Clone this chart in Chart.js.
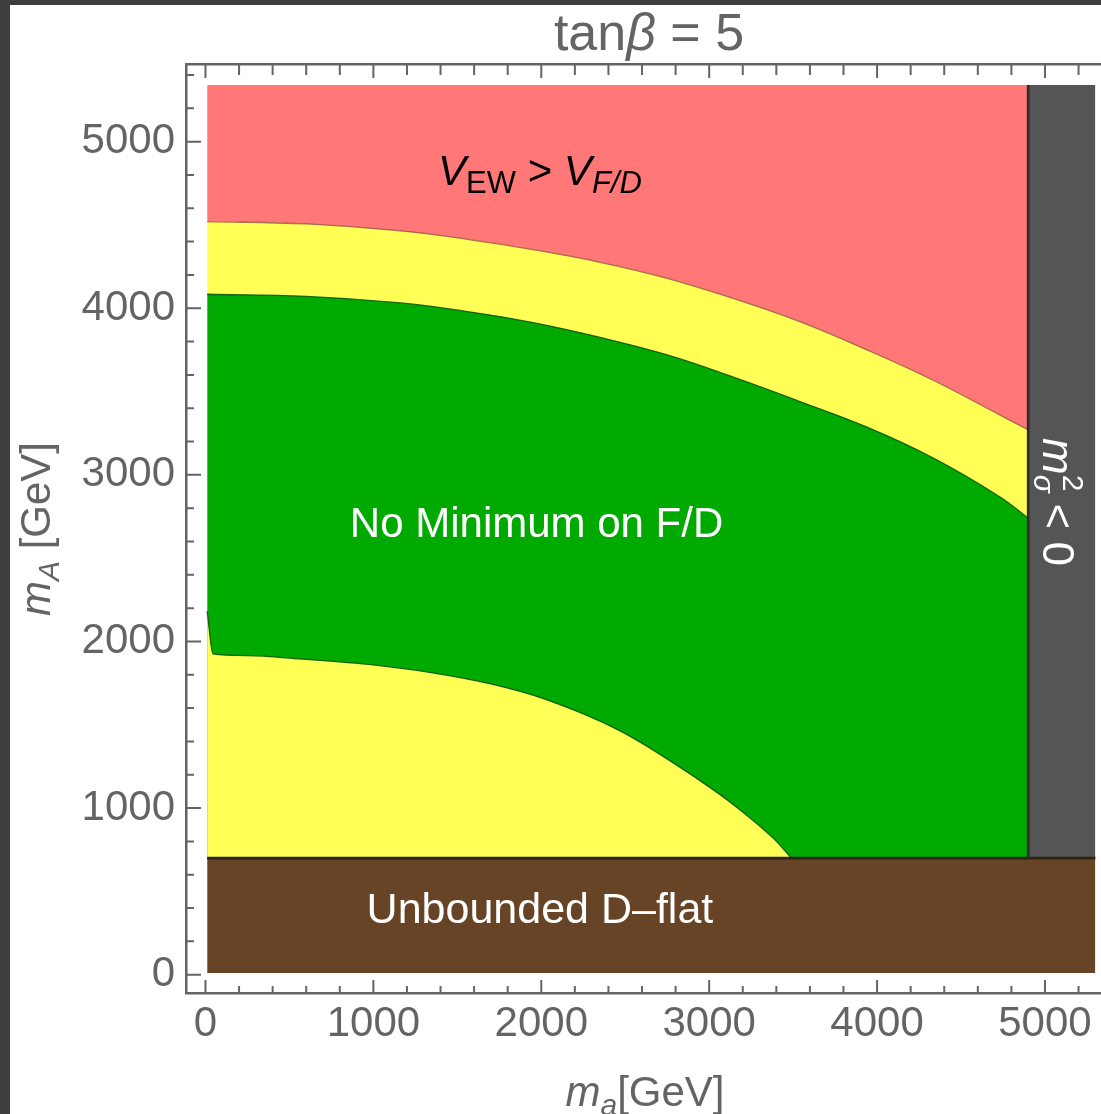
<!DOCTYPE html>
<html>
<head>
<meta charset="utf-8">
<script src="https://cdn.jsdelivr.net/npm/chart.js@4.4.0/dist/chart.umd.min.js"></script>
<style>
  html, body { margin: 0; padding: 0; background: #3f3f3f; overflow: hidden; width: 1101px; height: 1114px; }
  #wrap { position: absolute; left: 10px; top: 5px; width: 1106px; height: 1109px; background: #fff; }
  canvas { display: block; }
</style>
</head>
<body>
<div id="wrap"><canvas id="chart" width="1106" height="1109"></canvas></div>
<script>
const FONT = '"Liberation Sans", Arial, sans-serif';

const maTicks = [0, 1000, 2000, 3000, 4000, 5000];
const mATicks = [0, 1000, 2000, 3000, 4000, 5000];

// m_a samples shared by the two upper boundaries
const bandMa = [10, 600, 1160, 1560, 1950, 2350, 2750, 3140, 3540, 3940, 4340, 4730, 4900];
// edge of V_EW > V_F/D (red / yellow)
const ewEdge = [4520, 4506, 4464, 4414, 4352, 4276, 4180, 4060, 3920, 3750, 3565, 3360, 3270];
// top of "No Minimum on F/D" (yellow / green)
const fdEdge = [4084, 4071, 4032, 3980, 3914, 3825, 3720, 3588, 3440, 3286, 3098, 2869, 2740];

// bottom of the green region (green / lower yellow)
const lowMa = [10, 45, 250, 563, 1010, 1335, 1700, 2018, 2475, 2930, 3158, 3386, 3490];
const lowMA = [2182, 1925, 1915, 1895, 1858, 1815, 1745, 1655, 1460, 1175, 1010, 815, 700];

const maRange = [10, 5300];
const mARange = [10, 5340];
const dFlatEdge = 700;     // unbounded D-flat below this m_A
const tachyonEdge = 4900;  // m^2 < 0 right of this m_a

const RED = '#ff7777', YEL = '#ffff55', GRN = '#00aa00', BROWN = '#664425', GRAY = '#555555';
const AXIS = '#646464';

const pts = (xs, ys) => xs.map((x, i) => ({ x, y: ys[i] }));

function drawRuns(ctx, runs, x, y, align) {
  const adv = runs.map(r => {
    ctx.font = (r.italic ? 'italic ' : '') + r.size + 'px ' + FONT;
    const w = ctx.measureText(r.t).width;
    return r.stack ? 0 : w;
  });
  const total = adv.reduce((a, b) => a + b, 0);
  let cx = align === 'center' ? x - total / 2 : x;
  runs.forEach((r, i) => {
    ctx.font = (r.italic ? 'italic ' : '') + r.size + 'px ' + FONT;
    ctx.fillText(r.t, cx, y + (r.dy || 0));
    cx += adv[i];
  });
}

const frameTicks = {
  id: 'frameTicks',
  afterDraw(chart) {
    const { ctx, chartArea: a } = chart;
    const xs = chart.scales.x, ys = chart.scales.y;
    ctx.save();
    ctx.strokeStyle = AXIS;
    ctx.lineWidth = 2;
    ctx.beginPath();
    for (let v = 0; v <= 5400; v += 200) {
      const major = v % 1000 === 0;
      const px = xs.getPixelForValue(v);
      ctx.moveTo(px, a.bottom); ctx.lineTo(px, a.bottom - (major ? 13 : 7));
      ctx.moveTo(px, a.top); ctx.lineTo(px, a.top + (major ? 14 : 11));
      const py = ys.getPixelForValue(v);
      ctx.moveTo(a.left, py); ctx.lineTo(a.left + (major ? 15 : 8), py);
    }
    ctx.stroke();

    ctx.textAlign = 'left';
    ctx.textBaseline = 'alphabetic';

    // title
    ctx.fillStyle = AXIS;
    drawRuns(ctx, [
      { t: 'tan', size: 52 },
      { t: 'β', size: 52, italic: true },
      { t: ' = 5', size: 52 }
    ], 639, 45, 'center');

    // x axis title
    drawRuns(ctx, [
      { t: 'm', size: 42, italic: true },
      { t: 'a', size: 30, italic: true, dy: 9 },
      { t: '[GeV]', size: 42 }
    ], 635, 1101, 'center');

    // y axis title
    ctx.save();
    ctx.translate(40, 524);
    ctx.rotate(-Math.PI / 2);
    drawRuns(ctx, [
      { t: 'm', size: 42, italic: true },
      { t: 'A', size: 30, italic: true, dy: 9 },
      { t: ' [GeV]', size: 42 }
    ], 0, 0, 'center');
    ctx.restore();

    // region labels
    ctx.fillStyle = '#000';
    drawRuns(ctx, [
      { t: 'V', size: 42, italic: true },
      { t: 'EW', size: 31, dy: 8 },
      { t: ' > ', size: 42 },
      { t: 'V', size: 42, italic: true },
      { t: 'F/D', size: 31, italic: true, dy: 8 }
    ], xs.getPixelForValue(1992), ys.getPixelForValue(4740), 'center');

    ctx.fillStyle = '#fff';
    drawRuns(ctx, [{ t: 'No Minimum on F/D', size: 42 }],
      xs.getPixelForValue(1972), ys.getPixelForValue(2629), 'center');
    drawRuns(ctx, [{ t: 'Unbounded D–flat', size: 43 }],
      xs.getPixelForValue(1992), ys.getPixelForValue(311), 'center');

    ctx.save();
    ctx.translate(xs.getPixelForValue(4988), ys.getPixelForValue(3221));
    ctx.rotate(Math.PI / 2);
    drawRuns(ctx, [
      { t: 'm', size: 44, italic: true },
      { t: 'σ', size: 30, italic: true, dy: 9, stack: true },
      { t: '2', size: 30, dy: -20 },
      { t: ' < 0', size: 44 }
    ], 0, 0, 'left');
    ctx.restore();

    ctx.restore();
  }
};

// smooth: 'spline' (tension) for the upper bands, 'monotone' for the lower edge with its corner
const curveOpts = { spline: { tension: 0.4 }, monotone: { cubicInterpolationMode: 'monotone' } };
const fillSet = (data, fill, color, order, smooth) => Object.assign({
  data, fill, backgroundColor: color, borderColor: 'transparent', borderWidth: 0, order, tension: 0
}, curveOpts[smooth] || {});
const edgeSet = (data, color, width, order, smooth) => Object.assign({
  data, fill: false, borderColor: color, borderWidth: width, order, tension: 0
}, curveOpts[smooth] || {});

const datasets = [
  fillSet(pts(bandMa, ewEdge), { value: mARange[1] }, RED, 9, 'spline'),
  fillSet(pts(bandMa, fdEdge), 0, YEL, 8, 'spline'),
  fillSet(pts(bandMa, fdEdge), { value: dFlatEdge }, GRN, 7, 'spline'),
  fillSet(pts(lowMa, lowMA), { value: dFlatEdge }, YEL, 6, 'monotone'),
  fillSet([{ x: tachyonEdge, y: mARange[1] }, { x: maRange[1], y: mARange[1] }], { value: dFlatEdge }, GRAY, 5),
  fillSet([{ x: maRange[0], y: dFlatEdge }, { x: maRange[1], y: dFlatEdge }], { value: mARange[0] }, BROWN, 4),
  edgeSet(pts(bandMa, ewEdge), 'rgba(140,70,60,0.75)', 1.3, 3, 'spline'),
  edgeSet(pts(bandMa, fdEdge), 'rgba(10,85,10,0.9)', 1.3, 3, 'spline'),
  edgeSet(pts(lowMa, lowMA), 'rgba(10,85,10,0.9)', 1.3, 3, 'monotone'),
  edgeSet([{ x: maRange[0], y: dFlatEdge }, { x: maRange[1], y: dFlatEdge }], '#2e2414', 2.7, 1),
  edgeSet([{ x: tachyonEdge, y: dFlatEdge }, { x: tachyonEdge, y: mARange[1] }], '#2d2d2d', 2.7, 0)
];

const tickFont = { family: FONT, size: 42 };

new Chart(document.getElementById('chart'), {
  type: 'line',
  data: { datasets },
  options: {
    responsive: false,
    animation: false,
    events: [],
    layout: { padding: 0 },
    elements: { point: { radius: 0 } },
    plugins: { legend: { display: false }, tooltip: { enabled: false }, title: { display: false } },
    scales: {
      x: {
        type: 'linear', position: 'bottom', min: -116, max: 5423,
        afterBuildTicks: s => { s.ticks = maTicks.map(v => ({ value: v })); },
        afterFit: s => { s.height = 121; },
        grid: { drawOnChartArea: false, drawTicks: false },
        border: { display: true, color: AXIS, width: 2.5 },
        ticks: { font: tickFont, color: AXIS, padding: 6, maxRotation: 0, autoSkip: false, callback: v => String(v) }
      },
      xTop: {
        type: 'linear', position: 'top', min: -116, max: 5423,
        afterFit: s => { s.height = 59; },
        grid: { drawOnChartArea: false, drawTicks: false },
        border: { display: true, color: AXIS, width: 2.5 },
        ticks: { display: false }
      },
      y: {
        type: 'linear', position: 'left', min: -110, max: 5466,
        afterBuildTicks: s => { s.ticks = mATicks.map(v => ({ value: v })); },
        afterFit: s => { s.width = 176; },
        grid: { drawOnChartArea: false, drawTicks: false },
        border: { display: true, color: AXIS, width: 2.5 },
        ticks: { font: tickFont, color: AXIS, padding: 11, autoSkip: false, callback: v => String(v) }
      }
    }
  },
  plugins: [frameTicks]
});
</script>
</body>
</html>
